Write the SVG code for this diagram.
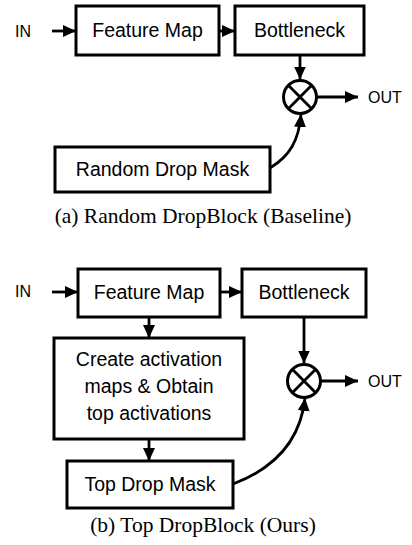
<svg xmlns="http://www.w3.org/2000/svg" width="412" height="545" viewBox="0 0 412 545">
<style>
.box{fill:#fff;stroke:#000;stroke-width:3}
.lbl{font-family:"Liberation Sans",Arial,sans-serif;font-size:19.5px;fill:#000;text-anchor:middle}
.io{font-family:"Liberation Sans",Arial,sans-serif;font-size:16px;fill:#000}
.cap{font-family:"Liberation Serif","Times New Roman",serif;font-size:21.5px;fill:#000;text-anchor:middle}
.ln{fill:none;stroke:#000;stroke-width:2.8}
.mul{fill:#fff;stroke:#000;stroke-width:3}
</style>
<defs>
<marker id="ah" markerUnits="userSpaceOnUse" markerWidth="13" markerHeight="12" refX="13" refY="6" orient="auto">
<path d="M0,0 L13,6 L0,12 z" fill="#000"/>
</marker>
</defs>

<!-- (a) Random DropBlock -->
<text class="io" x="15" y="37">IN</text>
<g id="fm-a"><rect class="box" x="76" y="6" width="143" height="49"/><text class="lbl" x="147.5" y="37">Feature Map</text></g>
<g id="bn-a"><rect class="box" x="235" y="6" width="129" height="49"/><text class="lbl" x="299.5" y="37">Bottleneck</text></g>
<g id="mul-a"><circle class="mul" cx="300" cy="97" r="16.5"/><path class="ln" d="M288.3,85.3 L311.7,108.7 M311.7,85.3 L288.3,108.7"/></g>
<g id="rdm-a"><rect class="box" x="55" y="147" width="215" height="45"/><text class="lbl" x="162.5" y="176">Random Drop Mask</text></g>
<text class="io" x="368" y="103">OUT</text>
<text class="cap" x="203" y="223">(a) Random DropBlock (Baseline)</text>

<!-- (b) Top DropBlock -->
<text class="io" x="15" y="297">IN</text>
<g id="fm-b"><rect class="box" x="78" y="269" width="142" height="48"/><text class="lbl" x="149" y="299">Feature Map</text></g>
<g id="bn-b"><rect class="box" x="242" y="269" width="124" height="48"/><text class="lbl" x="304" y="299">Bottleneck</text></g>
<g id="cam-b"><rect class="box" x="54" y="338" width="190" height="101"/>
<text class="lbl" x="149" y="366">Create activation</text>
<text class="lbl" x="149" y="393">maps &amp; Obtain</text>
<text class="lbl" x="149" y="420">top activations</text></g>
<g id="tdm-b"><rect class="box" x="67" y="461" width="166" height="47"/><text class="lbl" x="150" y="491">Top Drop Mask</text></g>
<g id="mul-b"><circle class="mul" cx="304" cy="381" r="16.5"/><path class="ln" d="M292.3,369.3 L315.7,392.7 M315.7,369.3 L292.3,392.7"/></g>
<text class="io" x="368" y="387">OUT</text>
<text class="cap" x="203" y="532">(b) Top DropBlock (Ours)</text>

<g id="connectors">
<line class="ln" x1="52" y1="31" x2="76" y2="31" marker-end="url(#ah)"/>
<line class="ln" x1="219" y1="31" x2="235" y2="31" marker-end="url(#ah)"/>
<line class="ln" x1="300" y1="55" x2="300" y2="79.5" marker-end="url(#ah)"/>
<line class="ln" x1="317" y1="97" x2="358" y2="97" marker-end="url(#ah)"/>
<path class="ln" d="M270,168 C290,156 299,140 301,114" marker-end="url(#ah)"/>

<line class="ln" x1="52" y1="292" x2="78" y2="292" marker-end="url(#ah)"/>
<line class="ln" x1="220" y1="292" x2="242" y2="292" marker-end="url(#ah)"/>
<line class="ln" x1="304" y1="317" x2="304" y2="363.5" marker-end="url(#ah)"/>
<line class="ln" x1="321" y1="381" x2="358" y2="381" marker-end="url(#ah)"/>
<line class="ln" x1="149" y1="317" x2="149" y2="338" marker-end="url(#ah)"/>
<line class="ln" x1="149" y1="439" x2="149" y2="461" marker-end="url(#ah)"/>
<path class="ln" d="M233,484 C270,470 300,445 305,398" marker-end="url(#ah)"/>
</g>
</svg>
